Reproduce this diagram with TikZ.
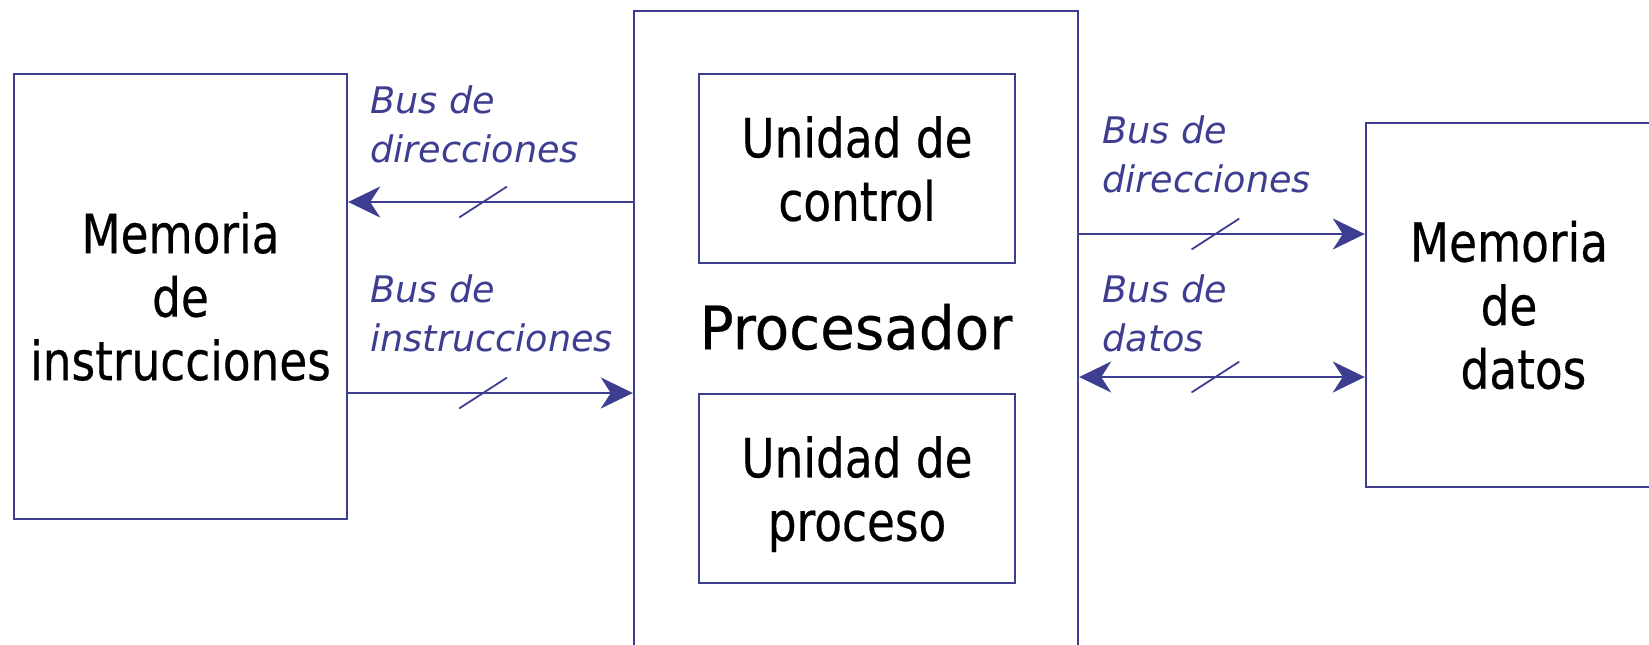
\documentclass[tikz,border=0pt]{standalone}
\usepackage{fontspec}
\setmainfont{DejaVu Sans}
\newfontfamily\narrowsans{DejaVu Sans}[FakeStretch=0.84, FakeBold=0.4]
\newfontfamily\procsans{DejaVu Sans}[FakeStretch=0.94, FakeBold=0.4]
\usetikzlibrary{arrows.meta}
\definecolor{busblue}{RGB}{62,62,145}
\begin{document}
\begin{tikzpicture}[x=0.5pt, y=-0.5pt,
    busarrow/.tip={Stealth[length=16pt, width=15.5pt, inset=5pt]},
    box/.style={draw=busblue, line width=1.2pt, inner sep=0pt},
    bigtext/.style={font=\narrowsans\fontsize{27}{31.75}\selectfont, align=center},
    buslabel/.style={text=busblue, font=\itshape\fontsize{18.3}{24.5}\selectfont, align=left, anchor=north west, inner sep=0pt},
    bus/.style={draw=busblue, line width=1.4pt, -busarrow},
    slashmark/.style={minimum width=24pt, minimum height=15.5pt, inner sep=0pt, path picture={\draw[-, busblue, line width=0.9pt] (path picture bounding box.south west) -- (path picture bounding box.north east);}}]
\useasboundingbox (0,0) rectangle (1649,644);
\node[box, bigtext, minimum width=166.5pt, minimum height=222.5pt] (meminst) at (180.5,296.5) {Memoria\\de\\instrucciones};
\node[box, minimum width=222pt, minimum height=344.5pt] (proc) at (856,355.5) {};
\node[bigtext, font=\procsans\fontsize{30}{36}\selectfont] (proctxt) at (856,327) {Procesador};
\node[box, bigtext, text depth=0pt, minimum width=158pt, minimum height=94.5pt] (ucontrol) at (857,168.5) {Unidad de\\control};
\node[box, bigtext, text depth=0pt, minimum width=158pt, minimum height=94.5pt] (uproceso) at (857,488.5) {Unidad de\\proceso};
\node[box, bigtext, minimum width=143pt, minimum height=182pt] (memdat) at (1509,305) {Memoria\\de\\\hphantom{d}datos};
% buses
\coordinate (dirI) at (0,202);\coordinate (insI) at (0,393);
\coordinate (dirD) at (0,234);\coordinate (datD) at (0,377);
\draw[bus] (proc.west |- dirI) -- node[slashmark, pos=0.526] {} (meminst.east |- dirI);
\draw[bus] (meminst.east |- insI) -- node[slashmark, pos=0.474] {} (proc.west |- insI);
\draw[bus] (proc.east |- dirD) -- node[slashmark, pos=0.477] {} (memdat.west |- dirD);
\draw[bus, busarrow-busarrow] (proc.east |- datD) -- node[slashmark, pos=0.477] {} (memdat.west |- datD);
\node[buslabel] (lbldirI) at (370,85) {Bus de\\direcciones};
\node[buslabel] (lblinsI) at (370,274) {Bus de\\instrucciones};
\node[buslabel] (lbldirD) at (1102,115) {Bus de\\direcciones};
\node[buslabel] (lbldatD) at (1102,274) {Bus de\\datos};
\end{tikzpicture}
\end{document}
